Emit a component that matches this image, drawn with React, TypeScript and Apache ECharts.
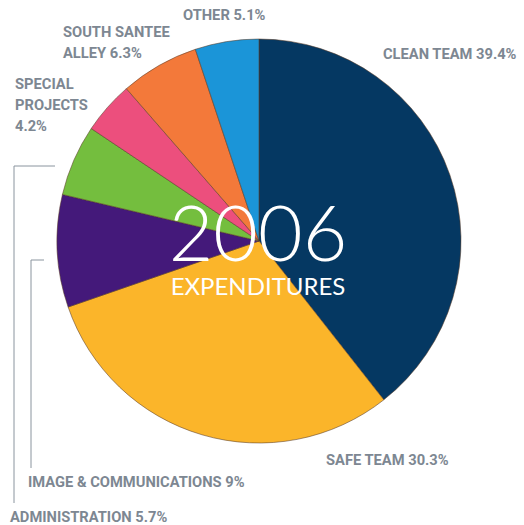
import React, { useEffect, useRef } from "react";
import * as echarts from "echarts";

const categories = [
  "CLEAN TEAM",
  "SAFE TEAM",
  "IMAGE & COMMUNICATIONS",
  "ADMINISTRATION",
  "SPECIAL PROJECTS",
  "SOUTH SANTEE ALLEY",
  "OTHER",
];
const values = [39.4, 30.3, 9, 5.7, 4.2, 6.3, 5.1];
const colors = ["#053862", "#fbb52a", "#44197a", "#74be3e", "#ec4f7d", "#f3793a", "#1b95d8"];
const titleYear = "2006";
const titleSub = "EXPENDITURES";

const LABEL_COLOR = "#7d8792";
const FONT = "Roboto, 'Liberation Sans', sans-serif";

export default function App() {
  const ref = useRef<HTMLDivElement>(null);
  useEffect(() => {
    if (!ref.current) return;
    const chart = echarts.init(ref.current, undefined, { renderer: "svg" });
    const pct = (i: number) => `${values[i]}%`;
    const lbl = (text: string, x: number, y: number) => ({
      type: "text",
      z: 100,
      style: {
        text,
        x,
        y,
        verticalAlign: "middle",
        fill: LABEL_COLOR,
        font: `bold 14.7px ${FONT}`,
        lineHeight: 21,
      },
    });
    const line = (points: number[][]) => ({
      type: "polyline",
      z: 100,
      shape: { points },
      style: { stroke: "#8a949e", lineWidth: 1, fill: "none" },
    });
    chart.setOption({
      animation: false,
      backgroundColor: "#ffffff",
      series: [
        {
          type: "pie",
          center: [259, 241],
          radius: 202,
          startAngle: 90,
          clockwise: true,
          label: { show: false },
          labelLine: { show: false },
          emphasis: { disabled: true },
          itemStyle: { borderColor: "rgba(90,60,40,0.55)", borderWidth: 1 },
          data: categories.map((c, i) => ({
            name: c,
            value: values[i],
            itemStyle: { color: colors[i] },
          })),
        },
      ],
      graphic: [
        {
          type: "text",
          z: 100,
          style: {
            text: titleYear,
            x: 258,
            y: 231,
            align: "center",
            verticalAlign: "middle",
            fill: "#ffffff",
            font: `300 77px Lato, 'Open Sans', sans-serif`,
            lineHeight: 58,
          },
        },
        {
          type: "text",
          z: 100,
          style: {
            text: titleSub,
            x: 258,
            y: 285,
            align: "center",
            verticalAlign: "middle",
            fill: "#ffffff",
            font: `400 24px Lato, 'Open Sans', sans-serif`,
            lineHeight: 22,
          },
        },
        lbl(`${categories[6]} ${pct(6)}`, 183, 15),
        lbl(`SOUTH SANTEE\nALLEY ${pct(5)}`, 63, 42),
        lbl(`SPECIAL\nPROJECTS\n${pct(4)}`, 15, 105),
        lbl(`${categories[0]} ${pct(0)}`, 383, 54),
        lbl(`${categories[1]} ${pct(1)}`, 326, 460),
        lbl(`${categories[2]} ${pct(2)}`, 28, 482),
        lbl(`${categories[3]} ${pct(3)}`, 10, 517),
        line([[55, 166], [14, 166], [14, 503]]),
        line([[44, 260], [31, 260], [31, 468]]),
      ],
    });
    return () => chart.dispose();
  }, []);
  return (
    <div
      ref={ref}
      style={{ position: "fixed", left: 0, top: 0, width: 524, height: 525, background: "#fff" }}
    />
  );
}
